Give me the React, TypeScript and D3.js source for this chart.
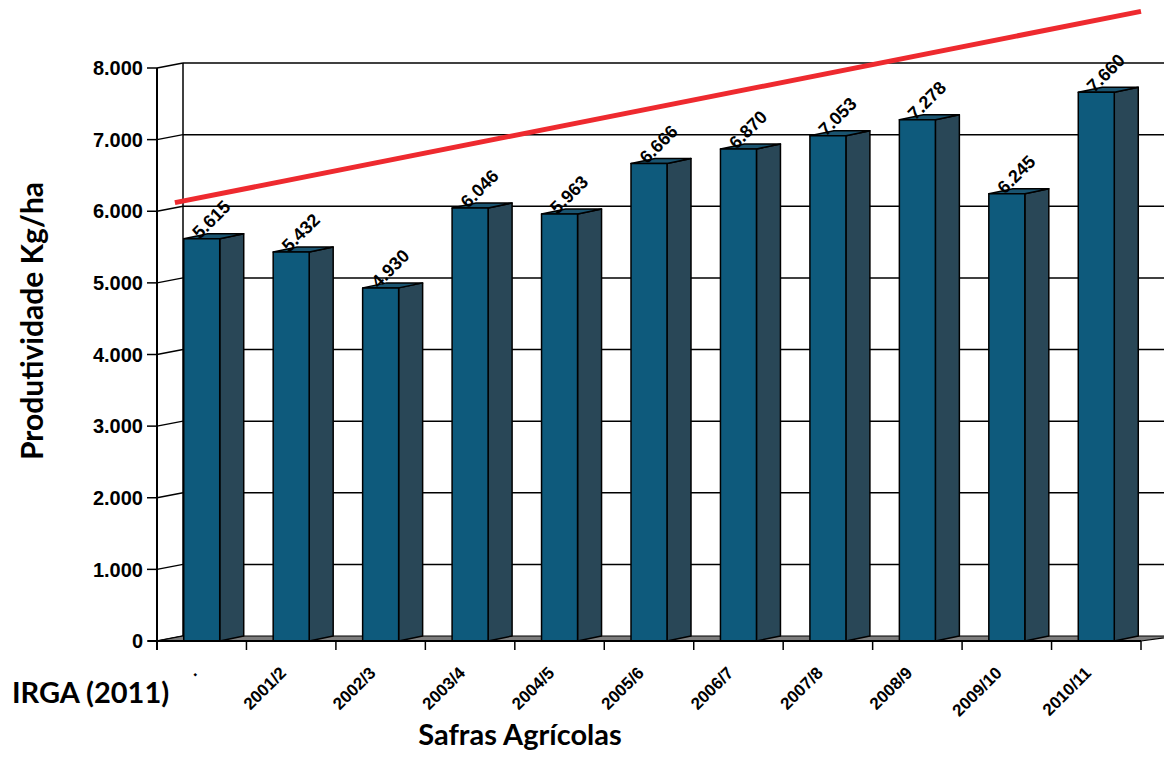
import React, { useEffect, useRef } from 'react';
import * as d3 from 'd3';

// data
const categories = ['2000/1', '2001/2', '2002/3', '2003/4', '2004/5', '2005/6', '2006/7', '2007/8', '2008/9', '2009/10', '2010/11'];
const tickLabels = ['.', '2001/2', '2002/3', '2003/4', '2004/5', '2005/6', '2006/7', '2007/8', '2008/9', '2009/10', '2010/11'];
const productivity = [5615, 5432, 4930, 6046, 5963, 6666, 6870, 7053, 7278, 6245, 7660];
const yTicks = [0, 1000, 2000, 3000, 4000, 5000, 6000, 7000, 8000];
// red trend line: [position in category units, value]
const trendPos = [0.2, 11.0];
const trendValues = [6120, 8790];

const fmt = (v: number) => (v === 0 ? '0' : d3.format(',')(v).replace(/,/g, '.'));

const App: React.FC = () => {
  const svgRef = useRef<SVGSVGElement>(null);

  useEffect(() => {
    document.body.style.margin = '0';
    if (!svgRef.current) return;

    const width = 1164;
    const height = 758;
    const left = 157;
    const right = 1141;
    const top = 68;
    const bottom = 641;
    const wallDx = 26;
    const wallDy = -5;
    const barW = 36;
    const barDx = 24;
    const barDy = -5;

    const svg = d3.select(svgRef.current)
      .attr('width', width)
      .attr('height', height)
      .html('');

    const x = d3.scaleBand<string>().domain(categories).range([left, right]).paddingInner(0).paddingOuter(0);
    const xPos = d3.scaleLinear().domain([0, categories.length]).range([left, right]);
    const y = d3.scaleLinear().domain([0, 8000]).range([bottom, top]);

    const sans = '"Liberation Sans", Arial, sans-serif';
    const title = 'Lato, "Open Sans", sans-serif';

    // back wall gridlines + side wall diagonals
    const grid = svg.append('g');
    yTicks.forEach((t) => {
      const yf = y(t);
      if (t > 0) {
        grid.append('line')
          .attr('x1', left + wallDx).attr('x2', width + 10)
          .attr('y1', yf + wallDy).attr('y2', yf + wallDy)
          .attr('stroke', '#000').attr('stroke-width', 1.5);
      }
      grid.append('line')
        .attr('x1', left).attr('y1', yf)
        .attr('x2', left + wallDx).attr('y2', yf + wallDy)
        .attr('stroke', '#000').attr('stroke-width', 1.5);
    });
    grid.append('line')
      .attr('x1', left + wallDx).attr('x2', left + wallDx)
      .attr('y1', y(8000) + wallDy).attr('y2', bottom + wallDy)
      .attr('stroke', '#000').attr('stroke-width', 1.5);

    // floor
    svg.append('path')
      .attr('d', `M${left},${bottom}L${left + wallDx},${bottom + wallDy}L${width + 10},${bottom + wallDy}L${right + wallDx + 10},${bottom + wallDy}L${right},${bottom}Z`)
      .attr('fill', '#7d7d7d')
      .attr('stroke', '#000')
      .attr('stroke-width', 1.2);

    // bars
    const bars = svg.append('g').attr('stroke', '#000').attr('stroke-width', 1.5).attr('stroke-linejoin', 'round');
    categories.forEach((c, i) => {
      const x0 = (x(c) as number) + (x.bandwidth() - barW) / 2;
      const x1 = x0 + barW;
      const yt = y(productivity[i]);
      bars.append('path')
        .attr('d', `M${x1},${yt}L${x1 + barDx},${yt + barDy}L${x1 + barDx},${bottom + barDy}L${x1},${bottom}Z`)
        .attr('fill', '#294757');
      bars.append('path')
        .attr('d', `M${x0},${yt}L${x0 + barDx},${yt + barDy}L${x1 + barDx},${yt + barDy}L${x1},${yt}Z`)
        .attr('fill', '#1a5470');
      bars.append('rect')
        .attr('x', x0).attr('y', yt)
        .attr('width', barW).attr('height', bottom - yt)
        .attr('fill', '#0e5a7c');

      svg.append('text')
        .attr('transform', `translate(${x0 + 16},${yt + 1}) rotate(-45)`)
        .attr('font-family', sans)
        .attr('font-weight', 'bold')
        .attr('font-size', 18)
        .attr('fill', '#000')
        .text(fmt(productivity[i]));
    });

    // front axes
    svg.append('line')
      .attr('x1', left).attr('x2', left).attr('y1', top).attr('y2', bottom + 9)
      .attr('stroke', '#000').attr('stroke-width', 2);
    svg.append('line')
      .attr('x1', left - 9).attr('x2', right).attr('y1', bottom).attr('y2', bottom)
      .attr('stroke', '#000').attr('stroke-width', 2);

    yTicks.forEach((t) => {
      svg.append('line')
        .attr('x1', left - 10).attr('x2', left).attr('y1', y(t)).attr('y2', y(t))
        .attr('stroke', '#000').attr('stroke-width', 1.5);
      svg.append('text')
        .attr('x', left - 14).attr('y', y(t))
        .attr('dy', '0.36em')
        .attr('text-anchor', 'end')
        .attr('font-family', sans)
        .attr('font-weight', 'bold')
        .attr('font-size', 20)
        .text(fmt(t));
    });

    d3.range(categories.length + 1).forEach((i) => {
      svg.append('line')
        .attr('x1', xPos(i)).attr('x2', xPos(i)).attr('y1', bottom).attr('y2', bottom + 9)
        .attr('stroke', '#000').attr('stroke-width', 1.5);
    });

    categories.forEach((c, i) => {
      const cx = (x(c) as number) + x.bandwidth() / 2;
      svg.append('text')
        .attr('transform', `translate(${cx - 4},${bottom + 33}) rotate(-45)`)
        .attr('text-anchor', 'end')
        .attr('font-family', sans)
        .attr('font-weight', 'bold')
        .attr('font-size', 17)
        .text(tickLabels[i]);
    });

    // trend line
    svg.append('line')
      .attr('x1', xPos(trendPos[0])).attr('y1', y(trendValues[0]))
      .attr('x2', xPos(trendPos[1])).attr('y2', y(trendValues[1]))
      .attr('stroke', '#ee2a2f').attr('stroke-width', 5);

    // titles
    svg.append('text')
      .attr('transform', `translate(43,321) rotate(-90)`)
      .attr('text-anchor', 'middle')
      .attr('font-family', title)
      .attr('font-weight', 'bold')
      .attr('font-size', 30)
      .text('Produtividade Kg/ha');

    svg.append('text')
      .attr('x', 12).attr('y', 703)
      .attr('font-family', title)
      .attr('font-weight', 'bold')
      .attr('font-size', 29)
      .text('IRGA (2011)');

    svg.append('text')
      .attr('x', 520).attr('y', 745)
      .attr('text-anchor', 'middle')
      .attr('font-family', title)
      .attr('font-weight', 'bold')
      .attr('font-size', 29)
      .text('Safras Agrícolas');
  }, []);

  return <svg ref={svgRef} style={{ display: 'block' }}></svg>;
};

export default App;
